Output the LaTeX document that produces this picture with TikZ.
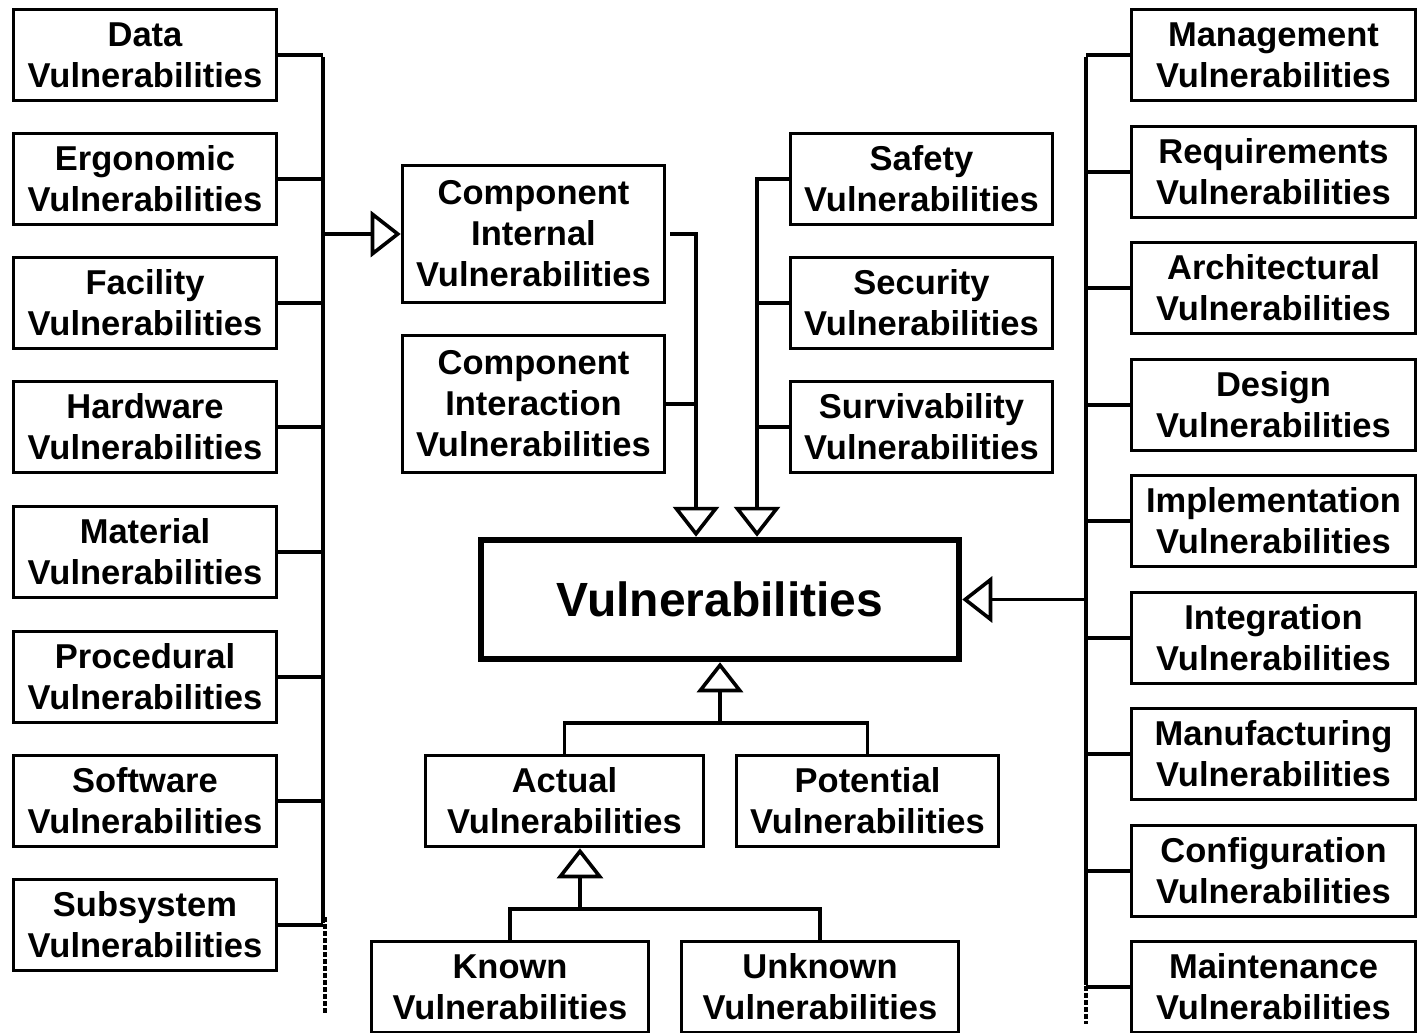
\documentclass[tikz,border=0pt]{standalone}
\usepackage{fontspec}
\setmainfont{Liberation Sans}
\usetikzlibrary{arrows.meta}
\begin{document}
\begin{tikzpicture}[x=1pt,y=-1pt,
  vbox/.style={draw,line width=3.6pt,inner sep=0pt,align=center,
    minimum width=263pt,minimum height=91pt,
    font=\fontsize{34.5}{41}\selectfont\bfseries},
  bigbox/.style={draw,line width=6.5pt,inner sep=0pt,
    minimum width=478pt,minimum height=119pt,
    font=\fontsize{48}{56}\selectfont\bfseries},
  link/.style={line width=3.6pt},
  tri/.style={link,-{Triangle[open,length=30pt,width=46pt]}},
  dotbus/.style={line width=4.5pt,dash pattern=on 4.5pt off 2.5pt}]
\useasboundingbox (0,0) rectangle (1419,1033);
\clip (0,0) rectangle (1419,1033);
\fill[white] (0,0) rectangle (1419,1033);

% central class
\node[bigbox] (vul) at (720,599.5) {Vulnerabilities};

% left column
\node[vbox] (data)  at (145,55)  {Data\\Vulnerabilities};
\node[vbox] (ergo)  at (145,179) {Ergonomic\\Vulnerabilities};
\node[vbox] (fac)   at (145,303) {Facility\\Vulnerabilities};
\node[vbox] (hw)    at (145,427) {Hardware\\Vulnerabilities};
\node[vbox] (mat)   at (145,552) {Material\\Vulnerabilities};
\node[vbox] (proc)  at (145,677) {Procedural\\Vulnerabilities};
\node[vbox] (sw)    at (145,801) {Software\\Vulnerabilities};
\node[vbox] (sub)   at (145,925) {Subsystem\\Vulnerabilities};

% component boxes
\node[vbox,minimum width=262pt,minimum height=137pt] (cint) at (533.5,234) {Component\\Internal\\Vulnerabilities};
\node[vbox,minimum width=262pt,minimum height=137pt] (cact) at (533.5,404) {Component\\Interaction\\Vulnerabilities};

% quality boxes
\node[vbox,minimum width=262pt] (safe) at (921.5,179) {Safety\\Vulnerabilities};
\node[vbox,minimum width=262pt] (secu) at (921.5,303) {Security\\Vulnerabilities};
\node[vbox,minimum width=262pt] (surv) at (921.5,427) {Survivability\\Vulnerabilities};

% right column
\tikzset{rbox/.style={vbox,minimum width=284pt}}
\node[rbox] (mgmt)  at (1273.5,55)  {Management\\Vulnerabilities};
\node[rbox] (req)   at (1273.5,172) {Requirements\\Vulnerabilities};
\node[rbox] (arch)  at (1273.5,288) {Architectural\\Vulnerabilities};
\node[rbox] (des)   at (1273.5,405) {Design\\Vulnerabilities};
\node[rbox] (impl)  at (1273.5,521) {Implementation\\Vulnerabilities};
\node[rbox] (integ) at (1273.5,638) {Integration\\Vulnerabilities};
\node[rbox] (manu)  at (1273.5,754) {Manufacturing\\Vulnerabilities};
\node[rbox] (conf)  at (1273.5,871) {Configuration\\Vulnerabilities};
\node[rbox] (maint) at (1273.5,987) {Maintenance\\Vulnerabilities};

% lower hierarchy
\node[vbox,minimum width=278pt] (act) at (564.5,801) {Actual\\Vulnerabilities};
\node[vbox,minimum width=262pt] (pot) at (867.5,801) {Potential\\Vulnerabilities};
\node[vbox,minimum width=277pt] (known) at (510,987) {Known\\Vulnerabilities};
\node[vbox,minimum width=277pt] (unkn)  at (820,987) {Unknown\\Vulnerabilities};

% bus positions
\coordinate (lb) at (323,0);
\coordinate (cb) at (696,0);
\coordinate (sb) at (757,0);
\coordinate (rb) at (1086,0);
\coordinate (j1) at (720,723);
\coordinate (j2) at (580,909);

% left bus into component internal
\foreach \n in {data,ergo,fac,hw,mat,proc,sw,sub}
  \draw[link] (\n.east) -- (\n.east -| lb);
\draw[link] ([yshift=-1.8pt]data.east -| lb) -- ([yshift=1.8pt]sub.east -| lb);
\draw[tri] (cint.west -| lb) -- (cint.west);
\draw[dotbus] ([xshift=2pt,yshift=8pt]sub.east -| lb) -- ++(0,96);

% component boxes into the central class
\draw[tri] ([xshift=4pt]cint.east) -| (cb |- vul.north);
\draw[link] (cact.east) -- (cact.east -| cb);

% quality boxes into the central class
\draw[tri] (safe.west) -| (sb |- vul.north);
\draw[link] (secu.west) -- (secu.west -| sb);
\draw[link] (surv.west) -- (surv.west -| sb);

% right bus into the central class
\foreach \n in {mgmt,req,arch,des,impl,integ,manu,conf,maint}
  \draw[link] (\n.west) -- (\n.west -| rb);
\draw[link] ([yshift=-1.8pt]mgmt.west -| rb) -- ([yshift=1.8pt]maint.west -| rb);
\draw[tri] (vul.east -| rb) -- (vul.east);
\draw[dotbus] ([yshift=8pt]maint.west -| rb) -- ++(0,45);

% actual / potential
\draw[link] (act.north) |- (j1) -| (pot.north);
\draw[tri] (j1) -- (vul.south);

% known / unknown
\draw[link] (known.north) |- (j2) -| (unkn.north);
\draw[tri] (j2) -- (j2 |- act.south);
\end{tikzpicture}
\end{document}
